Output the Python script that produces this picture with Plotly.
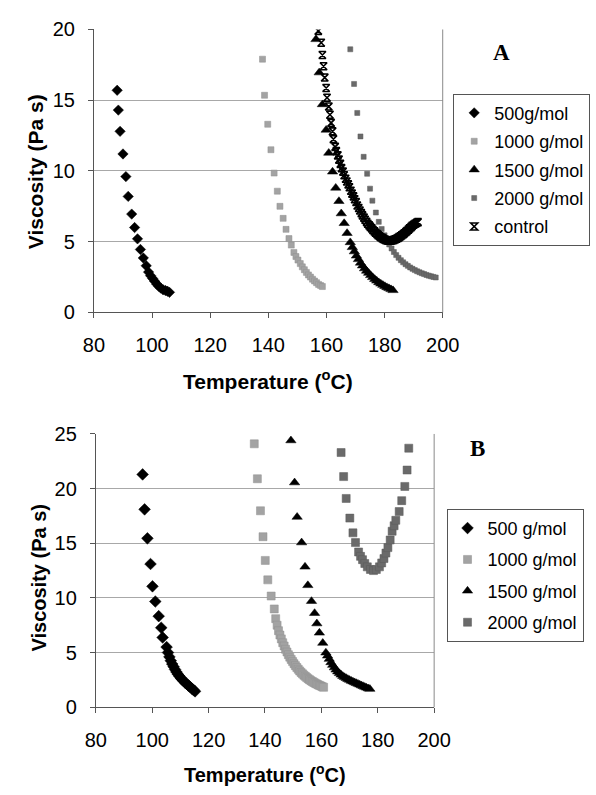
import plotly.graph_objects as go

# ---------------- Panel A data ----------------
a500_T = [88.0, 88.4, 89.0, 90.0, 91.0, 91.8, 93.0, 94.0, 95.0, 96.0, 97.0, 98.0, 98.8, 99.5,
          100.2, 100.9, 101.6, 102.3, 103.0, 103.8, 104.6, 105.3, 106.0]
a500_V = [15.7, 14.3, 12.8, 11.2, 9.6, 8.2, 6.95, 6.0, 5.2, 4.45, 3.85, 3.3, 2.85, 2.6,
          2.4, 2.2, 2.0, 1.85, 1.72, 1.6, 1.55, 1.5, 1.42]

a1000_T = [138.0, 138.7, 139.8, 140.9, 142.0, 143.1, 144.0, 145.1, 146.1, 147.1, 147.9, 148.8,
           149.5, 150.2, 151.0, 151.7, 152.4, 153.1, 153.8, 154.5, 155.2, 155.9, 156.6, 157.3,
           158.0, 158.6]
a1000_V = [17.9, 15.35, 13.3, 11.5, 9.85, 8.57, 7.5, 6.65, 5.87, 5.22, 4.76, 4.24,
           3.95, 3.7, 3.45, 3.22, 3.02, 2.83, 2.65, 2.5, 2.35, 2.22, 2.1, 1.98, 1.9, 1.83]

a1500_T = [156.4, 157.5, 158.6, 159.9, 160.8, 162.1, 163.2, 164.3, 165.1, 166.1, 167.1, 168.2,
           168.9, 169.6, 170.3, 171.0, 171.7, 172.4, 173.1, 173.8, 174.5, 175.2, 175.9, 176.6,
           177.3, 178.0, 178.7, 179.4, 180.1, 180.8, 181.5, 182.2, 182.9]
a1500_V = [19.3, 16.95, 14.7, 12.9, 11.27, 9.94, 8.8, 7.86, 6.99, 6.3, 5.6, 4.95,
           4.6, 4.3, 4.0, 3.75, 3.5, 3.3, 3.1, 2.93, 2.78, 2.62, 2.48, 2.35,
           2.23, 2.12, 2.02, 1.93, 1.85, 1.77, 1.7, 1.63, 1.56]

a2000_T = [168.2, 169.5, 170.6, 171.7, 172.8, 174.0, 175.0, 175.8, 177.0, 178.0, 179.0,
           180.0, 180.8, 181.6, 182.4, 183.2, 184.0, 184.8, 185.6, 186.4, 187.2, 188.0, 188.8,
           189.6, 190.4, 191.2, 192.0, 192.8, 193.6, 194.4, 195.2, 196.0, 196.8, 197.6]
a2000_V = [18.6, 16.15, 14.1, 12.44, 11.0, 9.8, 8.75, 7.9, 7.06, 6.4, 5.9,
           5.45, 5.1, 4.8, 4.52, 4.27, 4.05, 3.86, 3.69, 3.54, 3.41, 3.29, 3.18,
           3.08, 2.99, 2.91, 2.84, 2.77, 2.71, 2.65, 2.6, 2.55, 2.51, 2.47]

actl_T = [157.2, 158.2, 158.6, 159.0, 159.4, 159.9, 160.2, 160.8, 161.2, 161.6, 162.1, 162.4,
          163.0, 163.4, 163.9, 164.3, 164.8, 165.2, 165.7, 166.1, 166.6, 167.0, 167.5, 167.9,
          168.4, 168.8, 169.3, 169.7, 170.2, 170.6, 171.1, 171.5, 172.0, 172.4, 172.9, 173.3,
          173.8, 174.2, 174.7, 175.1, 175.6, 176.0, 176.5, 176.9, 177.4, 177.8, 178.3, 178.7,
          179.2, 179.6, 180.1, 180.5, 181.0, 181.4, 181.9, 182.3, 182.8, 183.2, 183.7, 184.1,
          184.6, 185.0, 185.5, 185.9, 186.4, 186.8, 187.3, 187.7, 188.2, 188.6, 189.1, 189.5,
          190.0, 190.5, 191.0, 191.5]
actl_V = [19.9, 19.06, 18.2, 17.4, 16.6, 15.86, 15.17, 14.55, 13.97, 13.4, 12.8, 12.25,
          11.7, 11.4, 11.1, 10.8, 10.5, 10.2, 9.95, 9.7, 9.45, 9.25, 9.05, 8.85,
          8.6, 8.4, 8.2, 8.0, 7.8, 7.56, 7.38, 7.2, 7.02, 6.86, 6.7, 6.55,
          6.4, 6.27, 6.15, 6.05, 5.94, 5.83, 5.73, 5.63, 5.54, 5.46, 5.38, 5.31,
          5.25, 5.2, 5.15, 5.11, 5.08, 5.07, 5.07, 5.08, 5.1, 5.13, 5.17, 5.21,
          5.26, 5.32, 5.38, 5.45, 5.52, 5.6, 5.68, 5.76, 5.85, 5.94, 6.03, 6.12,
          6.2, 6.27, 6.33, 6.38]

# ---------------- Panel B data ----------------
b500_T = [96.6, 97.3, 98.3, 99.4, 100.1, 101.1, 102.3, 103.2, 103.7, 105.1, 105.6, 106.1,
          106.6, 107.1, 107.6, 108.1, 108.6, 109.1, 109.6, 110.1, 110.6, 111.1, 111.6, 112.1,
          112.6, 113.1, 113.6, 114.1, 114.6, 115.2]
b500_V = [21.3, 18.1, 15.45, 13.1, 11.06, 9.67, 8.33, 7.27, 6.38, 5.5, 5.0, 4.6,
          4.25, 3.95, 3.7, 3.45, 3.22, 3.02, 2.85, 2.68, 2.53, 2.4, 2.27, 2.15,
          2.04, 1.93, 1.82, 1.7, 1.58, 1.45]

b1000_T = [136.2, 137.3, 138.4, 139.3, 140.1, 141.0, 142.2, 143.3, 143.8, 144.3, 144.8, 145.3,
           145.8, 146.3, 146.8, 147.3, 147.8, 148.3, 148.8, 149.3, 149.8, 150.3, 150.8, 151.3,
           151.8, 152.3, 152.8, 153.3, 153.8, 154.3, 154.8, 155.3, 155.8, 156.3, 156.8, 157.3,
           157.8, 158.3, 158.8, 159.3, 159.8, 160.3, 160.8]
b1000_V = [24.1, 20.9, 17.97, 15.6, 13.43, 11.65, 10.17, 8.99, 8.1, 7.5, 7.0, 6.6,
           6.25, 5.9, 5.6, 5.3, 5.05, 4.8, 4.58, 4.37, 4.17, 3.98, 3.8, 3.63,
           3.47, 3.32, 3.18, 3.05, 2.93, 2.82, 2.71, 2.61, 2.52, 2.43, 2.35, 2.27,
           2.2, 2.13, 2.06, 2.0, 1.94, 1.88, 1.82]

b1500_T = [149.2, 150.5, 151.4, 153.0, 154.2, 155.2, 156.5, 157.6, 158.4, 159.3, 160.5, 161.6,
           162.2, 162.8, 163.4, 164.0, 164.6, 165.2, 165.8, 166.4, 167.0, 167.6, 168.2, 168.8,
           169.4, 170.0, 170.6, 171.2, 171.8, 172.4, 173.0, 173.6, 174.2, 174.8, 175.4, 176.0,
           176.6, 177.2]
b1500_V = [24.4, 20.55, 17.4, 15.06, 12.84, 11.15, 9.7, 8.6, 7.65, 6.8, 5.87, 4.98,
           4.7, 4.4, 4.1, 3.85, 3.62, 3.42, 3.25, 3.1, 2.96, 2.84, 2.74, 2.65,
           2.56, 2.48, 2.4, 2.33, 2.26, 2.19, 2.12, 2.05, 1.98, 1.91, 1.84, 1.77,
           1.71, 1.66]

b2000_T = [167.0, 167.9, 168.8, 170.1, 171.2, 172.1, 173.2, 173.9, 174.6, 175.4, 176.3, 177.4,
           178.5, 179.5, 180.6, 181.4, 182.2, 182.9, 183.6, 184.4, 185.1, 185.8, 186.4, 187.6,
           188.5, 189.6, 190.4, 191.0]
b2000_V = [23.3, 21.1, 19.1, 17.3, 15.95, 15.06, 14.2, 13.8, 13.5, 13.15, 12.84, 12.6,
           12.5, 12.6, 12.84, 13.2, 13.6, 14.1, 14.6, 15.3, 16.1, 16.6, 17.1, 17.9,
           18.9, 20.2, 21.7, 23.7]

labels_A = ["500g/mol", "1000 g/mol", "1500 g/mol", "2000 g/mol", "control"]
labels_B = ["500 g/mol", "1000 g/mol", "1500 g/mol", "2000 g/mol"]

W, H = 596, 795
FONT = "Liberation Sans, Arial, sans-serif"

def px_x(p):
    return p / W

def px_y(p):
    return 1 - p / H

fig = go.Figure()

LIGHT = "#a3a3a3"
DARK = "#6a6a6a"

def add(T, V, name, sym, size, color, lcolor, xa, ya, leg, grp, lw=0.5):
    fig.add_trace(go.Scatter(
        x=T, y=V, mode="markers", name=name, xaxis=xa, yaxis=ya, legend=leg,
        legendgroup=grp,
        marker=dict(symbol=sym, size=size, color=color, line=dict(color=lcolor, width=lw)),
    ))

# Panel A
add(a500_T, a500_V, labels_A[0], "diamond", 8, "black", "black", "x", "y", "legend", "a1")
add(a1000_T, a1000_V, labels_A[1], "square", 6, LIGHT, "#909090", "x", "y", "legend", "a2")
add(a1500_T, a1500_V, labels_A[2], "triangle-up", 9, "black", "black", "x", "y", "legend", "a3")
add(a2000_T, a2000_V, labels_A[3], "square", 5, DARK, "#5a5a5a", "x", "y", "legend", "a4")
add(actl_T, actl_V, labels_A[4], "hourglass-open", 7, "black", "black", "x", "y", "legend", "a5", lw=1.6)

# Panel B
add(b500_T, b500_V, labels_B[0], "diamond", 9, "black", "black", "x2", "y2", "legend2", "b1")
add(b1000_T, b1000_V, labels_B[1], "square", 8, LIGHT, "#909090", "x2", "y2", "legend2", "b2")
add(b1500_T, b1500_V, labels_B[2], "triangle-up", 9, "black", "black", "x2", "y2", "legend2", "b3")
add(b2000_T, b2000_V, labels_B[3], "square", 8, DARK, "#5a5a5a", "x2", "y2", "legend2", "b4")

tickfont = dict(family=FONT, size=20, color="black")

def xaxis(domain, anchor):
    return dict(domain=domain, anchor=anchor, range=[80, 200], dtick=20, tick0=80,
                showgrid=False, zeroline=False, showline=True, linecolor="#555555",
                linewidth=1, mirror=False, ticks="outside", ticklen=5, tickcolor="#555555",
                tickfont=tickfont, ticklabelstandoff=10)

def yaxis(domain, anchor, rng, dt):
    return dict(domain=domain, anchor=anchor, range=rng, dtick=dt, tick0=0,
                showgrid=True, gridcolor="#a8a8a8", gridwidth=1, zeroline=False,
                showline=True, linecolor="#555555", linewidth=1, mirror=False,
                ticks="outside", ticklen=5, tickcolor="#555555",
                tickfont=tickfont, ticklabelstandoff=9)

fig.update_layout(
    width=W, height=H, margin=dict(l=0, r=0, t=0, b=0),
    paper_bgcolor="white", plot_bgcolor="white",
    xaxis=xaxis([px_x(87), px_x(453)], "y"),
    yaxis=yaxis([px_y(310), px_y(19)], "x", [0, 20], 5),
    xaxis2=xaxis([px_x(89), px_x(444)], "y2"),
    yaxis2=yaxis([px_y(716), px_y(435)], "x2", [0, 25], 5),
    legend=dict(x=px_x(464), y=px_y(85), xanchor="left", yanchor="top",
                bordercolor="#555555", borderwidth=1, bgcolor="white",
                font=dict(family=FONT, size=18, color="black"),
                tracegroupgap=2, itemwidth=30),
    legend2=dict(x=px_x(457), y=px_y(512), xanchor="left", yanchor="top",
                 bordercolor="#555555", borderwidth=1, bgcolor="white",
                 font=dict(family=FONT, size=18, color="black"),
                 tracegroupgap=5, itemwidth=30),
    showlegend=True,
)

# right border of plot areas
for xr, yr in (("x domain", "y domain"), ("x2 domain", "y2 domain")):
    fig.add_shape(type="line", xref=xr, yref=yr, x0=1, x1=1, y0=0, y1=1,
                  line=dict(color="#8a8a8a", width=1))

ann = [
    dict(x=px_x(26), y=px_y(165), text="Viscosity (Pa s)", textangle=-90, size=21),
    dict(x=px_x(29), y=px_y(583), text="Viscosity (Pa s)", textangle=-90, size=20),
    dict(x=px_x(270), y=px_y(380), text="Temperature (<sup>o</sup>C)", textangle=0, size=21),
    dict(x=px_x(266), y=px_y(784), text="Temperature (<sup>o</sup>C)", textangle=0, size=20),
]
for a in ann:
    fig.add_annotation(xref="paper", yref="paper", showarrow=False,
                       font=dict(family=FONT, size=a["size"], color="black", weight="bold"),
                       xanchor="center", yanchor="middle", x=a["x"], y=a["y"],
                       text=a["text"], textangle=a["textangle"])

panel_font = dict(family="Liberation Serif, Times New Roman, serif", size=23,
                  color="black", weight="bold")
fig.add_annotation(xref="paper", yref="paper", x=px_x(515), y=px_y(43), text="A",
                   showarrow=False, font=panel_font, xanchor="center", yanchor="middle")
fig.add_annotation(xref="paper", yref="paper", x=px_x(490), y=px_y(450), text="B",
                   showarrow=False, font=panel_font, xanchor="center", yanchor="middle")

fig.write_html("out.html")
